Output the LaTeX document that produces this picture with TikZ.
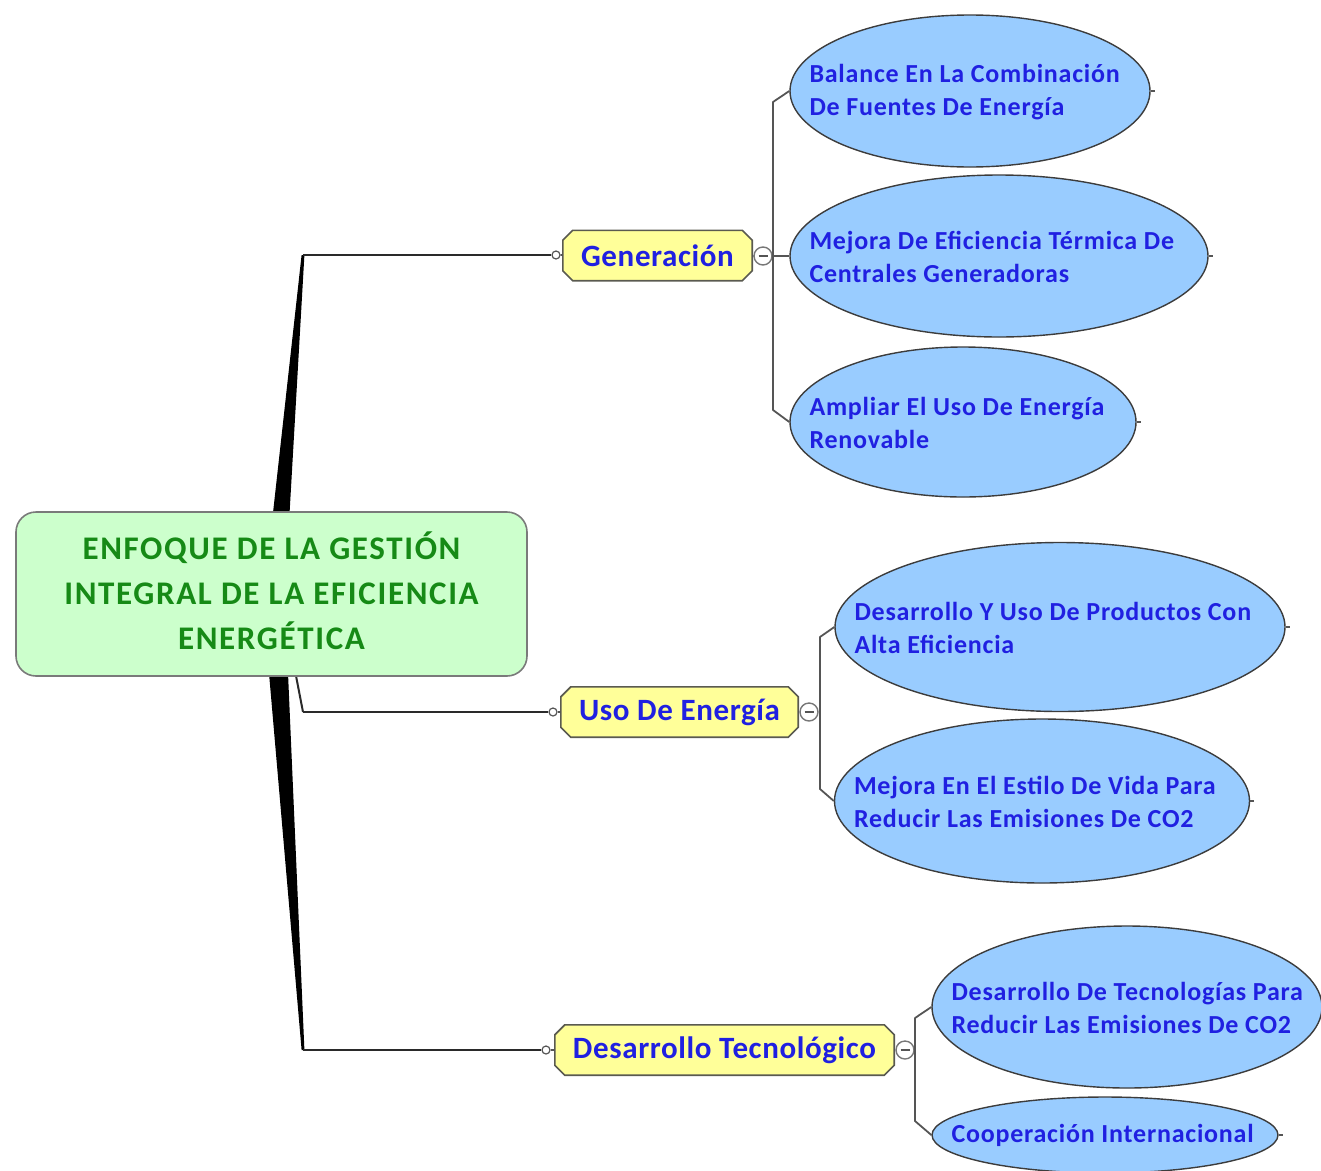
\documentclass[tikz,border=0pt]{standalone}
\usepackage{fontspec}
\setmainfont{Carlito}
\newfontfamily\rootfont[LetterSpace=5]{Carlito}
\newfontfamily\topicfont[LetterSpace=2]{Carlito}
\newfontfamily\leaffont[LetterSpace=3]{Carlito}
\usetikzlibrary{shapes.geometric,backgrounds}

\definecolor{rootfill}{HTML}{CCFFCC}
\definecolor{rootline}{HTML}{7A7A7A}
\definecolor{roottext}{RGB}{22,138,22}
\definecolor{topicfill}{HTML}{FFFF99}
\definecolor{topicline}{HTML}{5A5A50}
\definecolor{inktext}{RGB}{32,32,225}
\definecolor{leaffill}{RGB}{153,204,255}
\definecolor{leafline}{HTML}{3C3C3C}
\definecolor{wire}{HTML}{555555}
\definecolor{trunkline}{HTML}{2A2A2A}

% outline of a topic box with cut corners, drawn round a named node
\newcommand\chamferbox[2]{%
  \filldraw[fill=topicfill,draw=topicline,line width=1.6pt,line join=miter]
    ([xshift=#2]#1.north west) -- ([xshift=-#2]#1.north east)
    -- ([yshift=-#2]#1.north east) -- ([yshift=#2]#1.south east)
    -- ([xshift=-#2]#1.south east) -- ([xshift=#2]#1.south west)
    -- ([yshift=#2]#1.south west) -- ([yshift=-#2]#1.north west) -- cycle;}

\begin{document}
\begin{tikzpicture}[x=1pt,y=-1pt,
  rootbox/.style={rectangle,rounded corners=20pt,draw=rootline,line width=1.6pt,
    fill=rootfill,minimum width=511pt,minimum height=164pt},
  roottext/.style={align=center,inner sep=0pt,text=roottext,
    font=\rootfont\bfseries\fontsize{33}{45}\selectfont},
  topic/.style={rectangle,inner sep=0pt,minimum height=50pt,text=inktext,
    font=\topicfont\bfseries\fontsize{31}{36}\selectfont},
  leaf/.style={ellipse,draw=leafline,line width=1.4pt,fill=leaffill,inner sep=0pt},
  leaftext/.style={anchor=west,align=left,inner sep=0pt,text=inktext,
    font=\leaffont\bfseries\fontsize{26}{33}\selectfont},
  knob/.style={circle,draw=wire,fill=white,line width=1.2pt,minimum size=8pt,inner sep=0pt},
  fold/.style={circle,draw=wire!80,fill=white,line width=1.4pt,minimum size=18pt,inner sep=0pt,
    path picture={\draw[wire,line width=1.6pt]
      ([xshift=-4.5pt]path picture bounding box.center) -- ([xshift=4.5pt]path picture bounding box.center);}},
  mainline/.style={draw=trunkline,line width=2.4pt,line join=miter},
  branch/.style={draw=wire,line width=1.8pt,line join=round},
  trunk/.style={fill=black}]

\useasboundingbox (0,0) rectangle (1321,1170);

% joints where the trunks turn towards the topics
\coordinate (jg) at (303,255);
\coordinate (ju) at (303,712);
\coordinate (jd) at (303,1050);

% tapered trunks leaving the central box
\fill[trunk] (270,540) -- (288,540) -- ([xshift=1.4pt]jg) -- ([xshift=-1.4pt]jg) -- cycle;
\fill[trunk] (267,650) -- (287,650) -- ([xshift=1.4pt]jd) -- ([xshift=-1.4pt]jd) -- cycle;
\draw[mainline,line width=2pt] (291,650) -- (ju);

% central topic
\node[rootbox] (root) at (271.5,594) {};
\node[roottext] (roott) at ([yshift=3pt]root.center)
  {ENFOQUE DE LA GESTIÓN\\INTEGRAL DE LA EFICIENCIA\\ENERGÉTICA};

% main topics
\node[topic,minimum width=189pt] (gen) at (657.5,255.5) {Generación};
\node[topic,minimum width=237pt] (uso) at (679.5,712) {Uso De Energía};
\node[topic,minimum width=339pt] (des) at (724.5,1050) {Desarrollo Tecnológico};
\begin{pgfonlayer}{background}
  \chamferbox{gen}{10pt}
  \chamferbox{uso}{10pt}
  \chamferbox{des}{10pt}
\end{pgfonlayer}

% attachment knobs and fold buttons
\node[knob] (gl) at (556,255) {};
\node[knob] (ul) at (553,712) {};
\node[knob] (dl) at (546,1050) {};
\node[fold] (gc) at (763,256) {};
\node[fold] (uc) at (809,712) {};
\node[fold] (dc) at (905,1050) {};

\draw[mainline] (jg) -- (gl);
\draw[mainline] (ju) -- (ul);
\draw[mainline] (jd) -- (dl);
\draw[branch] (gl) -- (gen);
\draw[branch] (ul) -- (uso);
\draw[branch] (dl) -- (des);
\draw[branch] (gen) -- (gc);
\draw[branch] (uso) -- (uc);
\draw[branch] (des) -- (dc);

% subtopics
\node[leaf,minimum width=360pt,minimum height=152pt] (b1) at (970,91) {};
\node[leaf,minimum width=418pt,minimum height=162pt] (b2) at (999,256) {};
\node[leaf,minimum width=346pt,minimum height=150pt] (b3) at (963,422) {};
\node[leaf,minimum width=450pt,minimum height=169pt] (b4) at (1060,627) {};
\node[leaf,minimum width=415pt,minimum height=164pt] (b5) at (1042,801) {};
\node[leaf,minimum width=390pt,minimum height=162pt] (b6) at (1127,1007) {};
\node[leaf,minimum width=346pt,minimum height=76pt] (b7) at (1105,1135) {};

\node[leaftext] (b1t) at ([xshift=20pt,yshift=-1pt]b1.west) {Balance En La Combinación\\De Fuentes De Energía};
\node[leaftext] (b2t) at ([xshift=20pt,yshift=-1pt]b2.west) {Mejora De Eficiencia Térmica De\\Centrales Generadoras};
\node[leaftext] (b3t) at ([xshift=20pt,yshift=-1pt]b3.west) {Ampliar El Uso De Energía\\Renovable};
\node[leaftext] (b4t) at ([xshift=20pt,yshift=-1pt]b4.west) {Desarrollo Y Uso De Productos Con\\Alta Eficiencia};
\node[leaftext] (b5t) at ([xshift=20pt,yshift=-1pt]b5.west) {Mejora En El Estilo De Vida Para\\Reducir Las Emisiones De CO2};
\node[leaftext] (b6t) at ([xshift=20pt,yshift=-1pt]b6.west) {Desarrollo De Tecnologías Para\\Reducir Las Emisiones De CO2};
\node[leaftext] (b7t) at ([xshift=20pt]b7.west) {Cooperación Internacional};

% small stubs on the right of each subtopic
\foreach \b in {b1,b2,b3,b4,b5,b7}
  \draw[branch,line width=1.4pt] (\b.east) -- ++(4,0);

% branch buses
\coordinate (gbt) at (773,102);
\coordinate (gbb) at (773,410);
\coordinate (ubt) at (820,637);
\coordinate (ubb) at (820,789);
\coordinate (dbt) at (915,1018);
\coordinate (dbb) at (915,1121);

\draw[branch] (b1.west) -- (gbt) -- (gbb) -- (b3.west);
\draw[branch] (gc) -- (b2);
\draw[branch] (b4.west) -- (ubt) -- (ubb) -- (b5.west);
\draw[branch] (uc) -- (ubt |- uc);
\draw[branch] (b6.west) -- (dbt) -- (dbb) -- (b7.west);
\draw[branch] (dc) -- (dbt |- dc);

\end{tikzpicture}
\end{document}
